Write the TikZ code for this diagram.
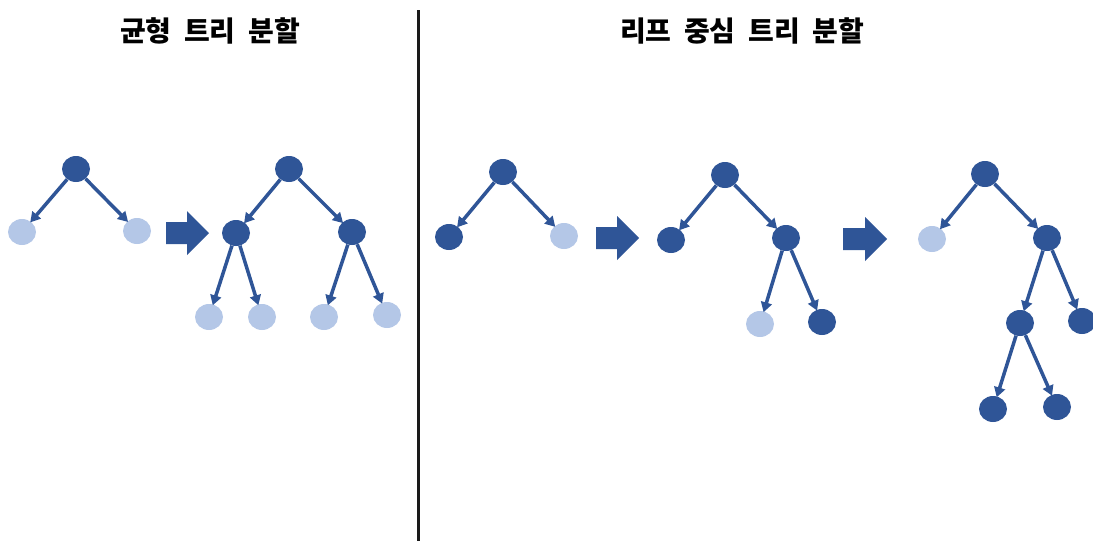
\documentclass[tikz,border=0pt]{standalone}
\usepackage{fontspec}
\newfontfamily\kr{Noto Sans CJK KR}
\usetikzlibrary{shapes.geometric,arrows.meta}
\definecolor{dkblue}{HTML}{2F5597}
\definecolor{ltblue}{HTML}{B4C7E7}
\definecolor{sepcol}{HTML}{1A1A1A}
\tikzset{
  x=1pt, y=-1pt,
  nd/.style={ellipse, fill=dkblue, minimum width=28pt, minimum height=26pt, inner sep=0pt},
  lt/.style={ellipse, fill=ltblue, minimum width=28pt, minimum height=26pt, inner sep=0pt},
  link/.style={draw=dkblue, line width=3.5pt, -{Triangle[length=10pt,width=11pt]}, shorten >=-1pt},
  bigarrow/.style={fill=dkblue},
  title/.style={font=\kr\bfseries\fontsize{28}{31}\selectfont, text=black, inner sep=0pt}
}
\begin{document}
\begin{tikzpicture}
\useasboundingbox (0,0) rectangle (1093,541);
% titles
\node[title] (t1) at (210,31) {균형\hspace{0.45em}트리\hspace{0.45em}분할};
\node[title] (t2) at (742,31) {리프\hspace{0.45em}중심\hspace{0.45em}트리\hspace{0.45em}분할};
% separator
\coordinate (s1) at (418,10);
\coordinate (s2) at (418,541);
\draw[sepcol, line width=3pt] (s1) -- (s2);

% tree 1
\node[nd] (a) at (76,169) {};
\node[lt] (a1) at (22,232) {};
\node[lt] (a2) at (137,231) {};
\draw[link] (a) -- (a1);
\draw[link] (a) -- (a2);

% block arrow 1
\fill[bigarrow] (166,222) -- (187,222) -- (187,211) -- (209,233) -- (187,255) -- (187,244) -- (166,244) -- cycle;

% tree 2
\node[nd] (b) at (289,169) {};
\node[nd] (b1) at (236,233) {};
\node[nd] (b2) at (352,232) {};
\node[lt] (b11) at (209,317) {};
\node[lt] (b12) at (262,317) {};
\node[lt] (b21) at (324,317) {};
\node[lt] (b22) at (387,315) {};
\draw[link] (b) -- (b1);
\draw[link] (b) -- (b2);
\draw[link] (b1) -- (b11);
\draw[link] (b1) -- (b12);
\draw[link] (b2) -- (b21);
\draw[link] (b2) -- (b22);

% tree 3
\node[nd] (c) at (503,172) {};
\node[nd] (c1) at (449,237) {};
\node[lt] (c2) at (564,236) {};
\draw[link] (c) -- (c1);
\draw[link] (c) -- (c2);

% block arrow 2
\fill[bigarrow] (596,227) -- (617,227) -- (617,216) -- (639,238) -- (617,260) -- (617,249) -- (596,249) -- cycle;

% tree 4
\node[nd] (d) at (725,175) {};
\node[nd] (d1) at (671,240) {};
\node[nd] (d2) at (786,238) {};
\node[lt] (d21) at (760,324) {};
\node[nd] (d22) at (822,322) {};
\draw[link] (d) -- (d1);
\draw[link] (d) -- (d2);
\draw[link] (d2) -- (d21);
\draw[link] (d2) -- (d22);

% block arrow 3
\fill[bigarrow] (843,228) -- (865,228) -- (865,217) -- (887,239) -- (865,261) -- (865,250) -- (843,250) -- cycle;

% tree 5
\node[nd] (e) at (985,174) {};
\node[lt] (e1) at (932,239) {};
\node[nd] (e2) at (1047,238) {};
\node[nd] (e21) at (1020,323) {};
\node[nd] (e22) at (1082,321) {};
\node[nd] (e211) at (993,409) {};
\node[nd] (e212) at (1057,407) {};
\draw[link] (e) -- (e1);
\draw[link] (e) -- (e2);
\draw[link] (e2) -- (e21);
\draw[link] (e2) -- (e22);
\draw[link] (e21) -- (e211);
\draw[link] (e21) -- (e212);
\end{tikzpicture}
\end{document}
